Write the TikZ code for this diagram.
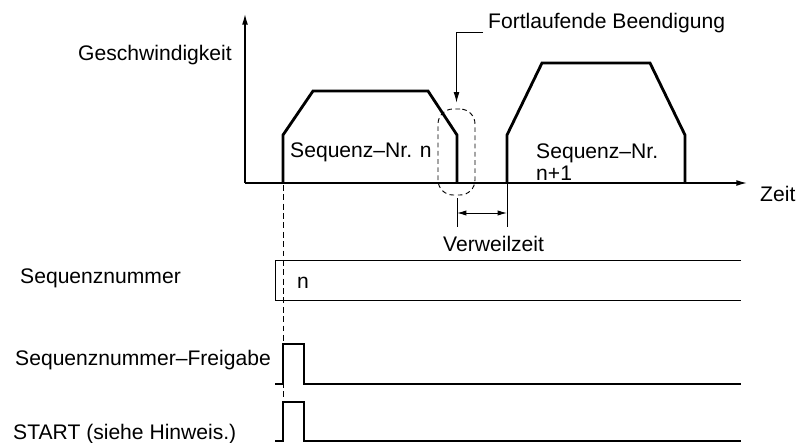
\documentclass[tikz,border=0pt]{standalone}
\usepackage{fontspec}
\setmainfont{Liberation Sans}
\usetikzlibrary{arrows.meta,positioning}

\begin{document}
\begin{tikzpicture}[x=0.03cm,y=-0.03cm,
  lbl/.style={anchor=base west,inner sep=0pt,font=\fontsize{18}{18.7}\selectfont},
  profile/.style={line width=2.4pt,line join=miter},
  signal/.style={line width=1.9pt},
  axis/.style={line width=1.1pt,-{Latex[length=9pt,width=5pt]}},
  fine/.style={line width=0.8pt}]
  \useasboundingbox (0,0) rectangle (802,443);
  % Axes
  \coordinate (origin) at (245,183);
  \coordinate (vtop) at (245,14);
  \coordinate (tend) at (747,183);
  \draw[axis] (origin) -- (vtop);
  \draw[axis] (origin) -- (tend);
  \node[lbl] (speed) at (78,60) {Geschwindigkeit};
  \node[lbl] (time) at (760,201) {Zeit};
  % Speed profiles
  \draw[profile] (283,183) -- (283,135) -- (313,91) -- (428,91) -- (457,135) -- (457,183);
  \draw[profile] (507,183) -- (507,135) -- (542,63) -- (650,63) -- (685,135) -- (685,183);
  \node[lbl] (seqa) at (290,157) {Sequenz--Nr. n};
  \node[lbl,align=left] (seqb) at (536,180) {Sequenz--Nr.\\n+1};
  % Continuous end
  \node[draw,dashed,dash pattern=on 4pt off 3pt,fine,rounded corners=0.45cm,
    minimum width=1.11cm,minimum height=2.58cm,inner sep=0pt] (endbox) at (456.5,152) {};
  \node[lbl] (contend) at (488,28) {Fortlaufende Beendigung};
  \coordinate (annot) at (483,32);
  \draw[fine,-{Latex[length=9pt,width=5pt]},shorten >=5pt] (annot) -| (endbox.north);
  % Dwell time
  \coordinate (dwa) at (457,198);
  \coordinate (dwb) at (457,227);
  \coordinate (dwc) at (507,183);
  \coordinate (dwd) at (507,227);
  \draw[fine] (dwa) -- (dwb);
  \draw[fine] (dwc) -- (dwd);
  \draw[fine,{Latex[length=8pt,width=4.5pt]}-{Latex[length=8pt,width=4.5pt]}] (457,213) -- (507,213);
  \node[lbl] (dwell) at (443,251) {Verweilzeit};
  % Sequence number
  \node[lbl] (seqno) at (20,283) {Sequenznummer};
  \draw[fine] (741,260) -- (275,260) -- (275,300) -- (741,300);
  \node[lbl] (nval) at (297,288) {n};
  % Enable and start pulses
  \node[lbl] (enable) at (15,365) {Sequenznummer--Freigabe};
  \draw[signal] (275,384) -- (283,384) -- (283,344) -- (304,344) -- (304,384) -- (741,384);
  \node[lbl] (start) at (13,439) {START (siehe Hinweis.)};
  \draw[signal] (275,441) -- (283,441) -- (283,402) -- (304,402) -- (304,441) -- (741,441);
  % Start marker
  \draw[fine,dashed,dash pattern=on 5pt off 3pt] (283,185) -- (283,398);
\end{tikzpicture}
\end{document}
